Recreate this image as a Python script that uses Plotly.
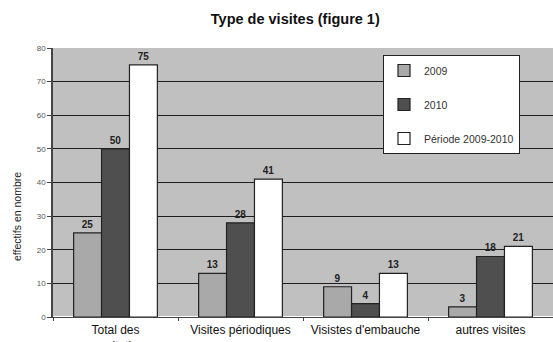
import plotly.graph_objects as go

categories = ["Total des<br>consultations", "Visites périodiques", "Visistes d'embauche", "autres visites"]
series_names = ["2009", "2010", "Période 2009-2010"]
v2009 = [25, 13, 9, 3]
v2010 = [50, 28, 4, 18]
vperiode = [75, 41, 13, 21]
y_ticks = [0, 10, 20, 30, 40, 50, 60, 70, 80]

FONT = "Arial, Liberation Sans"
colors = ["#a9a9a9", "#4f4f4f", "#ffffff"]
fig = go.Figure()
for i, (name, vals, col) in enumerate(zip(series_names, [v2009, v2010, vperiode], colors)):
    fig.add_trace(go.Bar(
        x=categories, y=vals, name=name, legendgroup=f"g{i}",
        marker=dict(color=col, line=dict(color="#222222", width=1.2)),
        text=[str(v) for v in vals], textposition="outside", cliponaxis=False,
        textfont=dict(family=FONT, size=10, color="#222222"),
        texttemplate="<b>%{text}</b>",
    ))

fig.update_layout(
    width=553, height=342,
    margin=dict(l=53, r=0, t=48, b=25),
    paper_bgcolor="white", plot_bgcolor="#c0c0c0",
    barmode="group", bargap=0.33, bargroupgap=0,
    title=dict(text="<b>Type de visites (figure 1)</b>", x=0.534, xanchor="center", y=0.945, yanchor="middle",
               font=dict(family=FONT, size=14.5, color="#111111")),
    legend=dict(x=0.66, y=0.974, xanchor="left", yanchor="top", bgcolor="white",
                bordercolor="#222222", borderwidth=1,
                font=dict(family=FONT, size=10.5, color="#333333"),
                itemwidth=30, tracegroupgap=15),
    showlegend=True,
    annotations=[dict(text="effectifs en nombre", textangle=-90, xref="paper", yref="paper",
                      x=(17 - 53) / 500, y=(317 - 217) / 269, xanchor="center", yanchor="middle",
                      showarrow=False, font=dict(family=FONT, size=10.5, color="#222222"))],
)
fig.update_xaxes(showgrid=False, tickson="boundaries", ticks="outside", ticklen=3, tickcolor="#444444",
                 showline=True, linecolor="#444444", linewidth=1, ticklabelstandoff=2, automargin=False,
                 tickfont=dict(family=FONT, size=12, color="#111111"))
fig.update_yaxes(range=[0, 80], tickvals=y_ticks, showgrid=True, gridcolor="#1e1e1e", gridwidth=1,
                 ticks="outside", ticklen=4, tickcolor="#444444", showline=True, linecolor="#444444", linewidth=1.5,
                 automargin=False,
                 tickfont=dict(family=FONT, size=8, color="#555555"))

fig.write_html("out.html")
